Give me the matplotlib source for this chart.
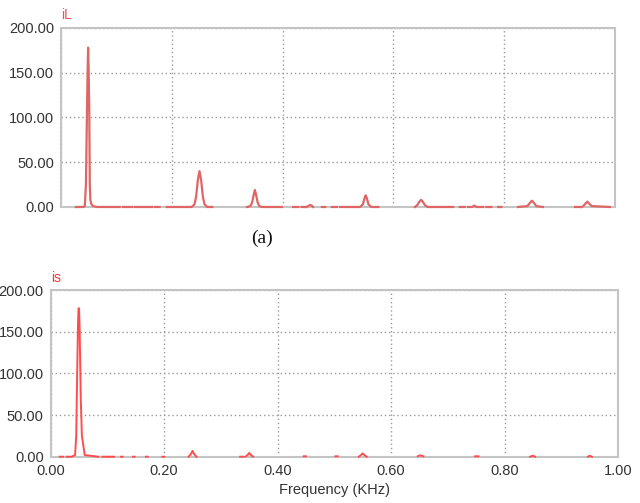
import numpy as np
import matplotlib.pyplot as plt

plt.rcParams['font.family'] = ['Liberation Sans', 'DejaVu Sans']

nan = np.nan

# iL spectrum (top): frequency in kHz, amplitude; nan breaks the trace
il_freq = [0.027, 0.040, 0.043, 0.045, 0.047, 0.048, 0.049, 0.050, 0.051, 0.052, 0.053, 0.055, 0.058, 0.065, 0.106, nan,
           0.112, 0.118, nan, 0.122, 0.128, nan, 0.133, 0.150, nan, 0.154, 0.165, nan, 0.170, 0.178, nan,
           0.191, 0.236, 0.241, 0.244, 0.247, 0.250, 0.253, 0.256, 0.259, 0.264, 0.273, nan,
           0.336, 0.342, 0.345, 0.348, 0.350, 0.352, 0.355, 0.358, 0.363, 0.399, nan,
           0.419, 0.428, nan, 0.434, 0.440, nan, 0.443, 0.449, 0.452, 0.455, nan, 0.471, 0.477, nan, 0.489, 0.498, nan,
           0.504, 0.540, 0.545, 0.548, 0.550, 0.552, 0.555, 0.560, 0.573, nan,
           0.639, 0.643, 0.647, 0.650, 0.653, 0.657, 0.662, 0.708, nan,
           0.720, 0.729, nan, 0.735, 0.742, 0.746, 0.750, 0.762, nan, 0.768, 0.777, nan, 0.789, 0.795, nan,
           0.825, 0.842, 0.847, 0.850, 0.853, 0.858, 0.870, nan,
           0.928, 0.937, nan, 0.940, 0.943, 0.947, 0.950, 0.953, 0.958, 0.991]
il_amp = [0, 0, 1, 25, 110, 150, 178, 150, 110, 25, 8, 3, 1, 0, 0, nan,
          0, 0, nan, 0, 0, nan, 0, 0, nan, 0, 0, nan, 0, 0, nan,
          0, 0, 3, 12, 30, 40, 30, 12, 3, 0, 0, nan,
          0, 1, 5, 14, 19, 14, 5, 1, 0, 0, nan,
          0, 0, nan, 0, 0, nan, 0, 2, 2, 0, nan, 0, 0, nan, 0, 0, nan,
          0, 0, 3, 10, 13, 10, 3, 0, 0, nan,
          0, 2, 6, 8, 6, 2, 0, 0, nan,
          0, 0, nan, 0, 0, 1.5, 0, 0, nan, 0, 0, nan, 0, 0, nan,
          0, 1, 5, 7, 5, 1, 0, nan,
          0, 0, nan, 0, 1, 4, 6, 4, 1, 0]

# is spectrum (bottom)
is_freq = [0.016, 0.022, nan, 0.028, 0.037, 0.043, 0.045, 0.046, 0.047, 0.048, 0.049, 0.050, 0.051, 0.052, 0.053, 0.055, 0.060, 0.084, nan,
           0.091, 0.100, nan, 0.103, 0.112, nan, 0.124, 0.127, nan, 0.145, 0.148, nan, 0.168, 0.171, nan, 0.197, 0.200, nan,
           0.243, 0.247, 0.250, 0.253, 0.257, nan,
           0.334, 0.339, nan, 0.343, 0.347, 0.350, 0.353, 0.357, nan,
           0.446, 0.450, nan, 0.502, 0.506, nan,
           0.543, 0.547, 0.550, 0.553, 0.557, nan,
           0.647, 0.650, 0.653, 0.657, nan, 0.748, 0.754, nan,
           0.845, 0.850, 0.854, nan, 0.947, 0.950, 0.954]
is_amp = [0, 0, nan, 0, 0, 2, 25, 70, 112, 155, 178, 178, 155, 112, 70, 25, 2, 0, nan,
          0, 0, nan, 0, 0, nan, 0, 0, nan, 0, 0, nan, 0, 0, nan, 0, 0, nan,
          0, 3, 7, 3, 0, nan,
          0, 0, nan, 0, 2, 4.5, 2, 0, nan,
          0.5, 0.5, nan, 0.5, 0.5, nan,
          0, 2, 4, 2, 0, nan,
          0.5, 1.5, 1.5, 0.5, nan, 0.5, 0.5, nan,
          0, 1.2, 0, nan, 0, 1.2, 0]

y_ticks = [0, 50, 100, 150, 200]
x_ticks = [0.0, 0.2, 0.4, 0.6, 0.8, 1.0]

fig = plt.figure(figsize=(6.4, 5.03), dpi=100)
ax1 = fig.add_axes([0.0953, 0.5885, 0.8656, 0.3559])
ax2 = fig.add_axes([0.0792, 0.0920, 0.8864, 0.3314])


def style(ax):
    ax.set_xlim(0, 1)
    ax.set_ylim(0, 200)
    ax.set_xticks(x_ticks)
    ax.set_yticks(y_ticks)
    ax.set_yticklabels(['%.2f' % v for v in y_ticks])
    ax.tick_params(length=0, labelsize=10.5, colors='#333333', pad=5)
    ax.grid(True, color='#9a9a9a', linestyle=(0, (1, 2)), linewidth=1)
    ax.set_axisbelow(True)
    for s in ax.spines.values():
        s.set_color('#c4c4c4')
        s.set_linewidth(1.5)


style(ax1)
style(ax2)
ax1.set_xticklabels([])
ax2.set_xticklabels(['%.2f' % v for v in x_ticks])

ax1.plot(il_freq, il_amp, color='#e06666', linewidth=1.6, clip_on=False, zorder=3)
ax2.plot(is_freq, is_amp, color='#ff4d4d', linewidth=1.4, clip_on=False, zorder=3)

ax1.text(0.0, 1.05, 'iL', transform=ax1.transAxes, color='#e85555', fontsize=10)
ax2.text(0.0, 1.05, 'is', transform=ax2.transAxes, color='#ff3333', fontsize=10)
ax2.set_xlabel('Frequency (KHz)', fontsize=10.5, color='#333333', labelpad=4)

fig.text(262 / 640, 1 - 238 / 503, '(a)', family='Liberation Serif', fontsize=14,
         ha='center', va='center', color='#111111')

fig.savefig('out.png', dpi=100, facecolor='white')
